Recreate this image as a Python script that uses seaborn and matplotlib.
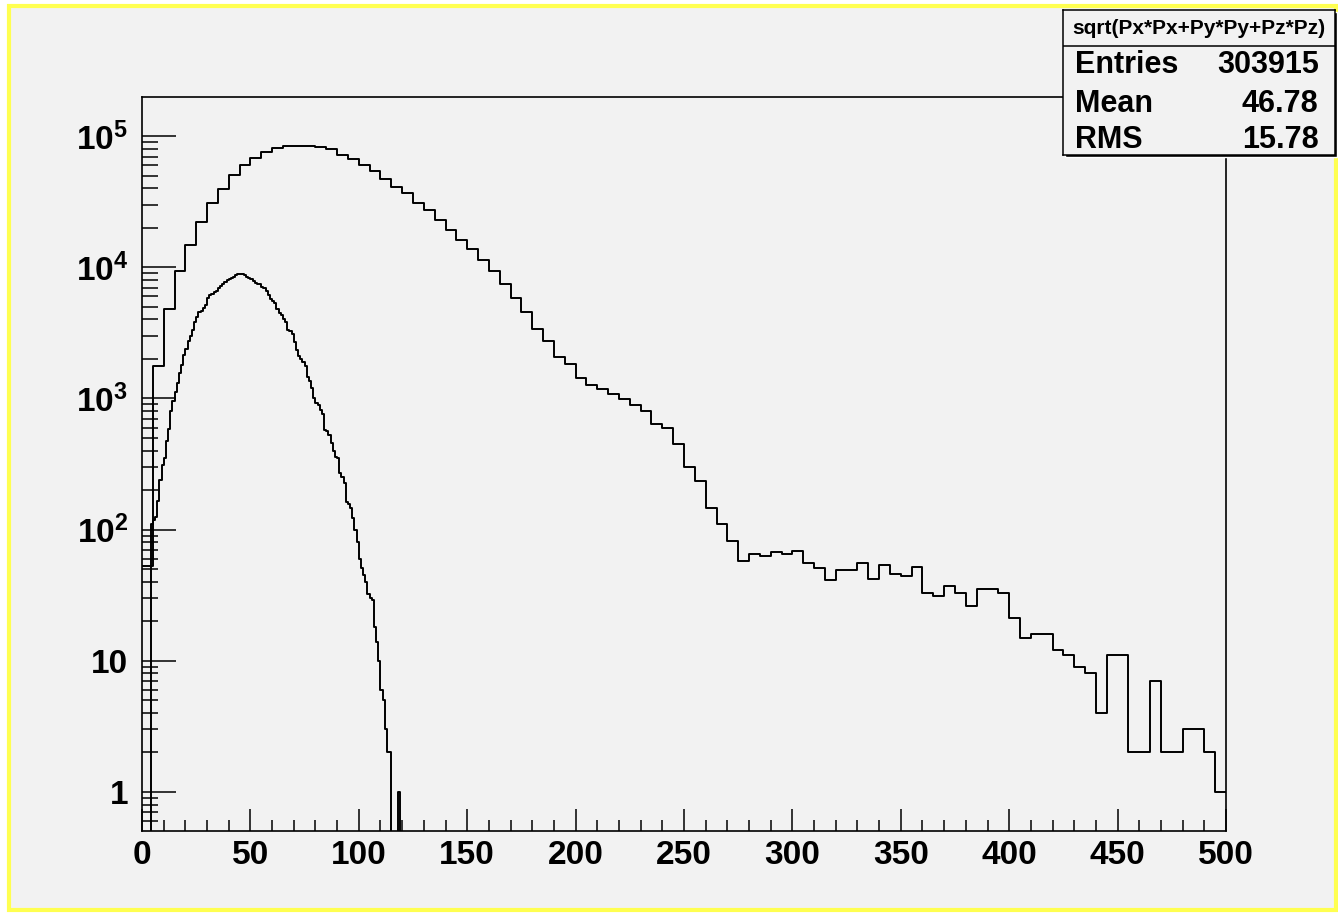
import numpy as np
import pandas as pd
import matplotlib
matplotlib.use("Agg")
import matplotlib.pyplot as plt
import seaborn as sns
from matplotlib.patches import Rectangle
from matplotlib.ticker import FixedLocator, LogLocator, NullFormatter

sns.set_style("white")
plt.rcParams["font.family"] = ["Liberation Sans", "DejaVu Sans"]
plt.rcParams["font.weight"] = "bold"
plt.rcParams["text.color"] = "black"
plt.rcParams["xtick.color"] = "black"
plt.rcParams["ytick.color"] = "black"
plt.rcParams["mathtext.fontset"] = "custom"
plt.rcParams["mathtext.rm"] = "Liberation Sans:bold"
plt.rcParams["mathtext.bf"] = "Liberation Sans:bold"
plt.rcParams["mathtext.it"] = "Liberation Sans:bold"

# momentum histograms
# wide histogram: 5-unit bins from 0 to 500
outer_counts = [
    53, 1770, 4790, 9400, 14800, 22300, 31100, 39800, 50600, 60300,
    68500, 76200, 80900, 84200, 84700, 84700, 82200, 79400, 71500, 66700,
    60000, 54300, 47400, 41200, 37100, 31100, 27300, 22900, 19200, 16100,
    13700, 11300, 9420, 7420, 5860, 4580, 3370, 2750, 2080, 1830,
    1430, 1260, 1170, 1090, 995, 890, 806, 638, 598, 449,
    298, 236, 145, 111, 82, 58, 65, 63, 67, 65,
    69, 56, 51, 41, 49, 49, 56, 42, 54, 46,
    44, 52, 33, 31, 37, 33, 26, 35, 35, 33,
    21, 15, 16, 16, 12, 11, 9, 8, 4, 11,
    11, 2, 2, 7, 2, 2, 3, 3, 2, 1,
]
# narrow histogram: 1-unit bins starting at 0
inner_counts = [
    0, 0, 0, 0, 110, 118, 125, 165, 240, 310,
    350, 470, 580, 800, 960, 1120, 1300, 1560, 1800, 2150,
    2400, 2750, 3000, 3350, 3800, 4200, 4550, 4650, 4900, 5150,
    5800, 6100, 6300, 6500, 6650, 7000, 7250, 7500, 7750, 7950,
    8100, 8300, 8500, 8700, 8850, 8900, 8850, 8700, 8500, 8300,
    8150, 7800, 7600, 7450, 7400, 7100, 6950, 6600, 6150, 5750,
    5500, 5350, 4800, 4450, 4350, 4000, 3800, 3300, 3250, 3100,
    2700, 2350, 2100, 2000, 1900, 1770, 1460, 1350, 1200, 1000,
    925, 890, 820, 760, 575, 560, 525, 455, 400, 357,
    350, 272, 250, 225, 162, 158, 145, 122, 99, 80,
    60, 51, 45, 40, 32, 30, 29, 18, 14, 10,
    6, 5, 3, 2, 2, 0, 0, 0, 1, 0,
]
outer_width = 5
inner_width = 1

x_ticks = [0, 50, 100, 150, 200, 250, 300, 350, 400, 450, 500]
x_labels = [str(v) for v in x_ticks]
y_ticks = [1, 10, 100, 1000, 10000, 100000]
y_labels = ["1", "10", r"$10^{2}$", r"$10^{3}$", r"$10^{4}$", r"$10^{5}$"]

stats_title = "sqrt(Px*Px+Py*Py+Pz*Pz)"
stats_names = ["Entries", "Mean", "RMS"]
stats_values = ["303915", "46.78", "15.78"]

W, H = 1338, 913
bg = "#f2f2f2"
fig = plt.figure(figsize=(W / 100, H / 100), dpi=100, facecolor="white")

# yellow canvas frame
fig.add_artist(Rectangle((9 / W, (H - 910) / H), (1336 - 9) / W, (910 - 6.5) / H,
                         transform=fig.transFigure, facecolor=bg,
                         edgecolor="#ffff50", linewidth=3, zorder=-1))

ax = fig.add_axes([142 / W, (H - 830.7) / H, 1084 / W, (830.7 - 97.3) / H], facecolor=bg)

outer_edges = [i * outer_width for i in range(len(outer_counts) + 1)]
inner_edges = [i * inner_width for i in range(len(inner_counts) + 1)]
outer_df = pd.DataFrame({"p": [e + outer_width / 2 for e in outer_edges[:-1]],
                         "n": outer_counts})
inner_df = pd.DataFrame({"p": [e + inner_width / 2 for e in inner_edges[:-1]],
                         "n": inner_counts})
sns.histplot(data=outer_df, x="p", weights="n", bins=outer_edges,
             element="step", fill=False, color="black", linewidth=1.4, ax=ax)
sns.histplot(data=inner_df, x="p", weights="n", bins=inner_edges,
             element="step", fill=False, color="black", linewidth=1.4, ax=ax)

ax.set_yscale("log")
ax.set_xlim(0, 500)
ax.set_ylim(0.505, 1.98e5)
ax.set_xlabel("")
ax.set_ylabel("")

ax.xaxis.set_major_locator(FixedLocator(x_ticks))
ax.xaxis.set_minor_locator(FixedLocator(np.arange(0, 501, 10)))
ax.set_xticklabels(x_labels)
ax.yaxis.set_major_locator(FixedLocator(y_ticks))
ax.yaxis.set_minor_locator(LogLocator(base=10, subs=np.arange(2, 10)))
ax.yaxis.set_minor_formatter(NullFormatter())
ax.set_yticklabels(y_labels)

ax.tick_params(axis="x", which="major", direction="in", length=16, width=1.1,
               labelsize=24, pad=7, bottom=True, top=False, color="black", labelcolor="black")
ax.tick_params(axis="x", which="minor", direction="in", length=8, width=1.1,
               bottom=True, top=False, color="black")
ax.tick_params(axis="y", which="major", direction="in", length=24.5, width=1.1,
               labelsize=24, pad=10, left=True, right=False, color="black", labelcolor="black")
ax.tick_params(axis="y", which="minor", direction="in", length=11.5, width=1.1,
               left=True, right=False, color="black")
for lbl in ax.get_xticklabels() + ax.get_yticklabels():
    lbl.set_fontweight("bold")
for sp in ax.spines.values():
    sp.set_color("black")
    sp.set_linewidth(1.2)

# stats box with shadow
bx0, by0, bw, bh = 1062.7, 155, 272.3, 145
fig.add_artist(Rectangle(((bx0 + 2) / W, (H - by0 - 2) / H), bw / W, bh / H,
                         transform=fig.transFigure, facecolor="black", zorder=2))
bx = fig.add_axes([bx0 / W, (H - by0) / H, bw / W, bh / H], facecolor=bg, zorder=3)
bx.set_xticks([])
bx.set_yticks([])
bx.set_xlim(0, 1)
bx.set_ylim(0, 1)
for sp in bx.spines.values():
    sp.set_color("black")
    sp.set_linewidth(1.1)
bx.axhline(0.752, color="black", linewidth=1.1)
bx.text(0.5, 0.872, stats_title, ha="center", va="center", fontsize=15, fontweight="bold",
        color="black")
for yy, name, val in zip([0.566, 0.297, 0.048], stats_names, stats_values):
    bx.text(0.045, yy, name, ha="left", va="baseline", fontsize=22, fontweight="bold",
            color="black")
    bx.text(0.94, yy, val, ha="right", va="baseline", fontsize=22, fontweight="bold",
            color="black")

fig.savefig("out.png", dpi=100, facecolor="white")
